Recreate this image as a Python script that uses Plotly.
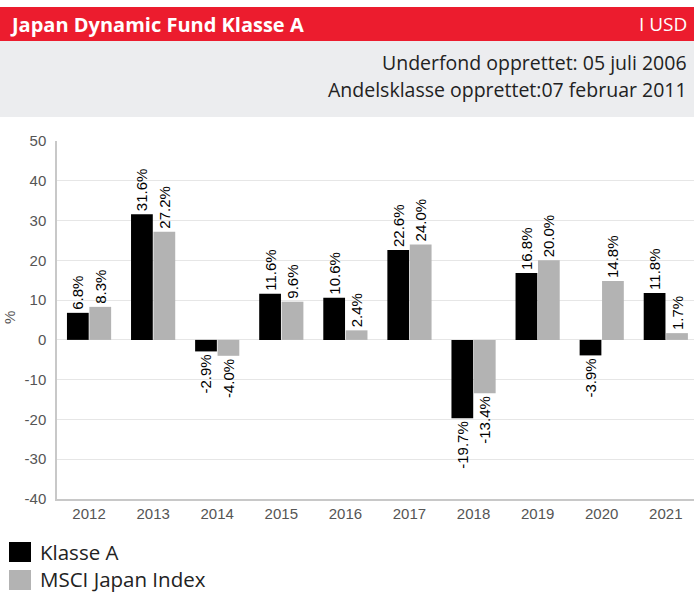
import plotly.graph_objects as go

years = ["2012", "2013", "2014", "2015", "2016", "2017", "2018", "2019", "2020", "2021"]
klasse_a = [6.8, 31.6, -2.9, 11.6, 10.6, 22.6, -19.7, 16.8, -3.9, 11.8]
msci = [8.3, 27.2, -4.0, 9.6, 2.4, 24.0, -13.4, 20.0, 14.8, 1.7]
y_ticks = [-40, -30, -20, -10, 0, 10, 20, 30, 40, 50]
y_ticktext = [str(v) for v in y_ticks]

W, H = 694, 592
L, R, T, B = 57, 0, 141, 93

fig = go.Figure()
for name, vals, col in [("Klasse A", klasse_a, "#000000"), ("MSCI Japan Index", msci, "#B3B3B3")]:
    fig.add_trace(go.Bar(
        x=years, y=vals, name=name, marker=dict(color=col, line=dict(width=0)),
        text=[f"{v:.1f}%" for v in vals], textposition="outside", textangle=-90,
        textfont=dict(family="Liberation Sans, Arial", size=15, color="#000000"),
        cliponaxis=False, showlegend=False,
    ))

fig.update_layout(
    width=W, height=H,
    margin=dict(l=L, r=R, t=T, b=B),
    paper_bgcolor="white", plot_bgcolor="white",
    barmode="group", bargap=0.3, bargroupgap=0.03,
    uniformtext=dict(minsize=15, mode="show"),
    xaxis=dict(showgrid=False, showline=True, linecolor="#C8C8C8", linewidth=1.5,
               range=[-0.5, 9.44], ticks="", ticklabelstandoff=0,
               tickfont=dict(family="Liberation Sans, Arial", size=15, color="#555555")),
    yaxis=dict(range=[-40, 50], tickvals=y_ticks, ticktext=y_ticktext, showgrid=True, gridcolor="#E6E6E6",
               zeroline=False, showline=True, linecolor="#C8C8C8", linewidth=1.5,
               ticks="", ticklabelstandoff=6,
               tickfont=dict(family="Liberation Sans, Arial", size=15, color="#555555")),
    font=dict(family="Open Sans"),
)

pw = W - L - R
ph = H - T - B
def px(xp):
    return (xp - L) / pw
def py(yp):
    return (H - B - yp) / ph

shapes = [
    dict(type="rect", xref="paper", yref="paper", x0=px(0), x1=px(W), y0=py(41), y1=py(7),
         fillcolor="#EC1C2E", line=dict(width=0), layer="below"),
    dict(type="rect", xref="paper", yref="paper", x0=px(0), x1=px(W), y0=py(117), y1=py(41),
         fillcolor="#ECEDEF", line=dict(width=0), layer="below"),
    dict(type="rect", xref="paper", yref="paper", x0=px(9), x1=px(31), y0=py(562), y1=py(542),
         fillcolor="#000000", line=dict(width=0)),
    dict(type="rect", xref="paper", yref="paper", x0=px(9), x1=px(31), y0=py(590), y1=py(570),
         fillcolor="#B3B3B3", line=dict(width=0)),
]
ann = [
    dict(text="<b>Japan Dynamic Fund Klasse A</b>", x=px(8), y=py(24), xanchor="left", yanchor="middle",
         font=dict(family="Open Sans", size=20, color="white")),
    dict(text="I USD", x=px(689), y=py(24), xanchor="right", yanchor="middle",
         font=dict(family="Open Sans", size=19, color="white")),
    dict(text="Underfond opprettet: 05 juli 2006", x=px(689), y=py(62), xanchor="right", yanchor="middle",
         font=dict(family="Open Sans", size=19.5, color="#222222")),
    dict(text="Andelsklasse opprettet:07 februar 2011", x=px(689), y=py(89), xanchor="right", yanchor="middle",
         font=dict(family="Open Sans", size=19.5, color="#222222")),
    dict(text="%", x=px(9), y=py(318), xanchor="center", yanchor="middle", textangle=-90,
         font=dict(family="Liberation Sans, Arial", size=15, color="#555555")),
    dict(text="Klasse A", x=px(38), y=py(552), xanchor="left", yanchor="middle",
         font=dict(family="Open Sans", size=20.5, color="#222222")),
    dict(text="MSCI Japan Index", x=px(38), y=py(579), xanchor="left", yanchor="middle",
         font=dict(family="Open Sans", size=20.5, color="#222222")),
]
for a in ann:
    a.update(xref="paper", yref="paper", showarrow=False)
fig.update_layout(shapes=shapes, annotations=ann)

fig.write_html("out.html", config={"displayModeBar": False},
               post_script="document.body.style.margin='0';")
